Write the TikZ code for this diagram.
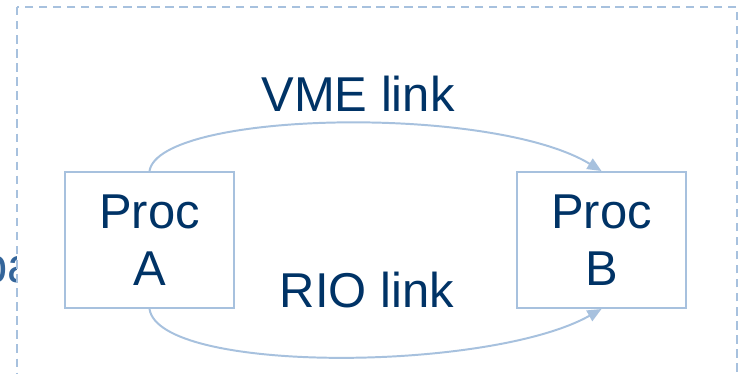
\documentclass[tikz,border=0pt]{standalone}
\usepackage{fontspec}
\setmainfont{Liberation Sans}
\usetikzlibrary{arrows.meta}
\definecolor{procText}{HTML}{003366}
\definecolor{linkLine}{HTML}{A7C1DE}
\definecolor{pathText}{HTML}{34659A}

\begin{document}
\begin{tikzpicture}[x=0.025cm, y=-0.025cm, >={Triangle[length=10pt,width=8.5pt]}]
		\tikzstyle{every node}=[font=\fontsize{34.8}{40.5}\selectfont, text=procText]
		\tikzstyle{proc}=[draw=linkLine, line width=1.4pt, minimum width=4.225cm, minimum height=3.4cm, align=center, inner sep=0pt]
		\tikzstyle{link}=[draw=linkLine, line width=1.4pt]

		\clip (0, 0) rectangle (738, 374);

		% label behind the dashed frame, only its left end shows
		\node[anchor=base west, text=pathText, inner sep=0pt] (pa) at (-20, 282) {pa};
		\draw[linkLine, fill=white, line width=1.2pt, dash pattern=on 6pt off 4pt] (17, 7) rectangle (737, 420);

		\node[proc] (ProcA) at (149.5, 240) {Proc\\A};
		\node[proc] (ProcB) at (601.5, 240) {Proc\\B};
		\node[anchor=base] (VME) at (358, 112) {VME link};
		\node[anchor=base] (RIO) at (367, 307) {RIO link};

		\draw[link, ->] (ProcA.north) .. controls +(10, -60) and +(-110, -67) .. (ProcB.north);
		\draw[link, ->] (ProcA.south) .. controls +(10, 65) and +(-112, 63) .. (ProcB.south);
	\end{tikzpicture}
\end{document}
